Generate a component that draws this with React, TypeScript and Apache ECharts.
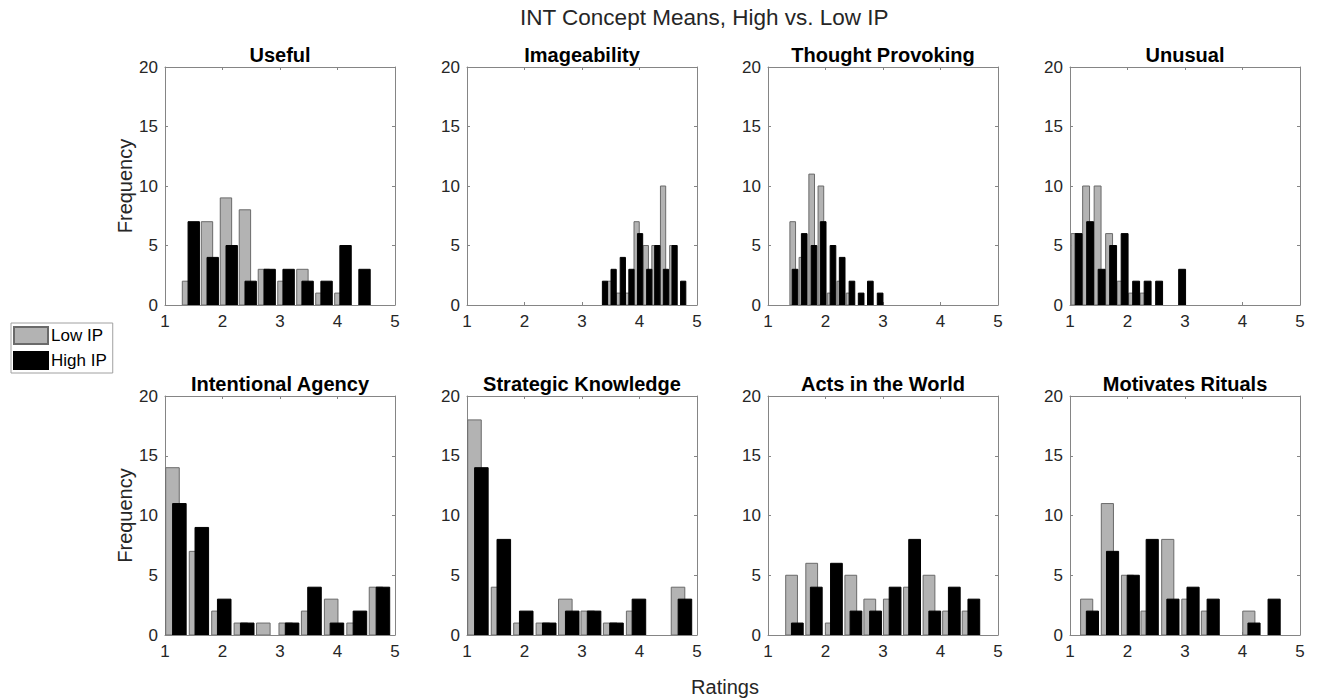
import React, { useEffect, useRef } from "react";
import * as echarts from "echarts";

const FONT = "'Liberation Sans', Arial, Helvetica, sans-serif";

const mainTitle = "INT Concept Means, High vs. Low IP";
const xAxisTitle = "Ratings";
const yAxisTitle = "Frequency";
const legendNames = ["Low IP", "High IP"];

const panelTitles = [
  "Useful",
  "Imageability",
  "Thought Provoking",
  "Unusual",
  "Intentional Agency",
  "Strategic Knowledge",
  "Acts in the World",
  "Motivates Rituals",
];

// histogram bin width (rating units) of each panel
const binWidths = [0.33, 0.152, 0.164, 0.2, 0.393, 0.393, 0.341, 0.352];

// Low IP bin centers and counts
const lowCenters = [
  [1.40, 1.73, 2.06, 2.39, 2.72, 3.06, 3.39, 3.72, 4.05],
  [3.49, 3.64, 3.80, 3.95, 4.11, 4.26, 4.41, 4.57],
  [1.43, 1.59, 1.76, 1.92, 2.08, 2.25, 2.41],
  [1.08, 1.28, 1.48, 1.68, 1.88, 2.08, 2.28],
  [1.13, 1.54, 1.93, 2.32, 2.71, 3.10, 3.49, 3.89, 4.28, 4.67],
  [1.13, 1.54, 1.93, 2.32, 2.71, 3.10, 3.49, 3.89, 4.28, 4.67],
  [1.41, 1.76, 2.10, 2.44, 2.77, 3.11, 3.46, 3.80, 4.14, 4.48],
  [1.29, 1.65, 2.00, 2.34, 2.70, 3.05, 3.39, 3.74, 4.11, 4.45],
];
const lowCounts = [
  [2, 7, 9, 8, 3, 2, 3, 1, 1],
  [2, 1, 1, 7, 5, 5, 10, 5],
  [7, 4, 11, 10, 1, 2, 1],
  [6, 10, 10, 6, 2, 1, 1],
  [14, 7, 2, 1, 1, 1, 2, 3, 1, 4],
  [18, 4, 1, 1, 3, 2, 1, 2, 0, 4],
  [5, 6, 1, 5, 3, 3, 4, 5, 2, 2],
  [3, 11, 5, 2, 8, 3, 2, 0, 2, 0],
];

// High IP bin centers and counts
const highCenters = [
  [1.50, 1.83, 2.16, 2.49, 2.82, 3.15, 3.48, 3.81, 4.14, 4.47],
  [3.40, 3.55, 3.71, 3.86, 4.01, 4.17, 4.31, 4.46, 4.61, 4.76],
  [1.47, 1.63, 1.80, 1.96, 2.13, 2.29, 2.46, 2.62, 2.78, 2.95],
  [1.15, 1.35, 1.55, 1.75, 1.95, 2.15, 2.35, 2.55, 2.75, 2.95],
  [1.25, 1.64, 2.03, 2.43, 2.83, 3.21, 3.60, 3.99, 4.39, 4.79],
  [1.25, 1.64, 2.03, 2.43, 2.83, 3.21, 3.60, 3.99, 4.39, 4.79],
  [1.51, 1.84, 2.19, 2.53, 2.87, 3.21, 3.55, 3.90, 4.24, 4.58],
  [1.39, 1.74, 2.10, 2.43, 2.79, 3.14, 3.49, 3.84, 4.20, 4.55],
];
const highCounts = [
  [7, 4, 5, 2, 3, 3, 2, 2, 5, 3],
  [2, 3, 4, 3, 6, 3, 5, 3, 5, 2],
  [3, 6, 5, 7, 5, 4, 2, 1, 2, 1],
  [6, 7, 3, 5, 6, 2, 2, 2, 0, 3],
  [11, 9, 3, 1, 0, 1, 4, 1, 2, 4],
  [14, 8, 2, 1, 2, 2, 1, 3, 0, 3],
  [1, 4, 6, 2, 2, 4, 8, 2, 4, 3],
  [2, 7, 5, 8, 3, 4, 3, 0, 1, 3],
];

const xMin = 1, xMax = 5, xStep = 1;
const yMin = 0, yMax = 20, yStep = 5;

const colLefts = [165, 467, 768, 1070];
const rowTops = [67, 396];
const rowHeights = [238, 239];
const plotWidth = 230;

const AXIS_COLOR = "#858585";
const TEXT_COLOR = "#262626";
const LOW_FILL = "#b3b3b3";
const LOW_EDGE = "#6a6a6a";
const HIGH_FILL = "#000000";
const HIGH_EDGE = "#000000";
const BAR_FRACTION = 0.6;

function renderBar(_params: any, api: any) {
  const c = api.value(0);
  const n = api.value(1);
  const w = api.value(2);
  if (!n) return null;
  const p0 = api.coord([c - w / 2, n]);
  const p1 = api.coord([c + w / 2, 0]);
  const st = api.style();
  return {
    type: "rect",
    shape: { x: p0[0], y: p0[1], width: p1[0] - p0[0], height: p1[1] - p0[1] },
    style: st,
  };
}

function buildOption() {
  const grid: any[] = [];
  const xAxis: any[] = [];
  const yAxis: any[] = [];
  const series: any[] = [];
  const graphic: any[] = [];
  const lineStyle = { color: AXIS_COLOR, width: 1 };

  for (let i = 0; i < 8; i++) {
    const col = i % 4;
    const row = Math.floor(i / 4);
    grid.push({
      left: colLefts[col],
      top: rowTops[row],
      width: plotWidth,
      height: rowHeights[row],
    });
    const xBase = {
      gridIndex: i,
      type: "value",
      min: xMin,
      max: xMax,
      interval: xStep,
      splitLine: { show: false },
      axisLine: { show: true, onZero: false, lineStyle },
      axisTick: { show: true, inside: true, length: 3, lineStyle },
    };
    xAxis.push({
      ...xBase,
      position: "bottom",
      axisLabel: { fontSize: 17, color: TEXT_COLOR, fontFamily: FONT, margin: 8 },
    });
    xAxis.push({ ...xBase, position: "top", axisLabel: { show: false } });
    const yBase = {
      gridIndex: i,
      type: "value",
      min: yMin,
      max: yMax,
      interval: yStep,
      splitLine: { show: false },
      axisLine: { show: true, onZero: false, lineStyle },
      axisTick: { show: true, inside: true, length: 3, lineStyle },
    };
    yAxis.push({
      ...yBase,
      position: "left",
      axisLabel: { fontSize: 17, color: TEXT_COLOR, fontFamily: FONT, margin: 7 },
      ...(col === 0
        ? {
            name: yAxisTitle,
            nameLocation: "middle",
            nameRotate: 90,
            nameGap: 30,
            nameTextStyle: { fontSize: 20, color: TEXT_COLOR, fontFamily: FONT },
          }
        : {}),
    });
    yAxis.push({ ...yBase, position: "right", axisLabel: { show: false } });

    const bw = binWidths[i] * BAR_FRACTION;
    series.push({
      type: "custom",
      name: legendNames[0],
      xAxisIndex: 2 * i,
      yAxisIndex: 2 * i,
      clip: true,
      renderItem: renderBar,
      encode: { x: 0, y: 1 },
      itemStyle: { color: LOW_FILL, borderColor: LOW_EDGE, borderWidth: 1 },
      data: lowCenters[i].map((c, k) => [c, lowCounts[i][k], bw]),
    });
    series.push({
      type: "custom",
      name: legendNames[1],
      xAxisIndex: 2 * i,
      yAxisIndex: 2 * i,
      clip: true,
      renderItem: renderBar,
      encode: { x: 0, y: 1 },
      itemStyle: { color: HIGH_FILL, borderColor: HIGH_EDGE, borderWidth: 1 },
      data: highCenters[i].map((c, k) => [c, highCounts[i][k], bw]),
    });

    graphic.push({
      type: "text",
      x: colLefts[col] + plotWidth / 2,
      y: rowTops[row] - 12.5,
      style: {
        text: panelTitles[i],
        fontSize: 20,
        fontWeight: "bold",
        fontFamily: FONT,
        fill: "#000000",
        align: "center",
        verticalAlign: "middle",
        textAlign: "center",
        textVerticalAlign: "middle",
      },
    });
  }

  graphic.push({
    type: "text",
    x: 725,
    y: 687,
    style: {
      text: xAxisTitle,
      fontSize: 20,
      fontFamily: FONT,
      fill: TEXT_COLOR,
      align: "center",
      verticalAlign: "middle",
      textAlign: "center",
      textVerticalAlign: "middle",
    },
  });

  return {
    animation: false,
    backgroundColor: "#ffffff",
    title: {
      text: mainTitle,
      left: 520,
      top: 6,
      padding: 0,
      textStyle: { fontSize: 22.5, fontWeight: "normal", color: TEXT_COLOR, fontFamily: FONT },
    },
    legend: {
      data: legendNames,
      orient: "vertical",
      left: 11,
      top: 323,
      itemWidth: 34,
      itemHeight: 17,
      itemGap: 6,
      padding: [3, 6, 3, 2],
      borderColor: "#a0a0a0",
      borderWidth: 1,
      icon: "rect",
      textStyle: { fontSize: 17, color: "#000000", fontFamily: FONT, padding: [0, 0, 0, -2] },
      selectedMode: false,
    },
    grid,
    xAxis,
    yAxis,
    series,
    graphic,
  };
}

export default function App() {
  const ref = useRef<HTMLDivElement>(null);
  useEffect(() => {
    if (!ref.current) return;
    const chart = echarts.init(ref.current, undefined, { renderer: "svg" });
    chart.setOption(buildOption() as any);
    return () => chart.dispose();
  }, []);
  return (
    <div
      ref={ref}
      style={{ position: "absolute", left: 0, top: 0, width: 1319, height: 699, background: "#fff" }}
    />
  );
}
